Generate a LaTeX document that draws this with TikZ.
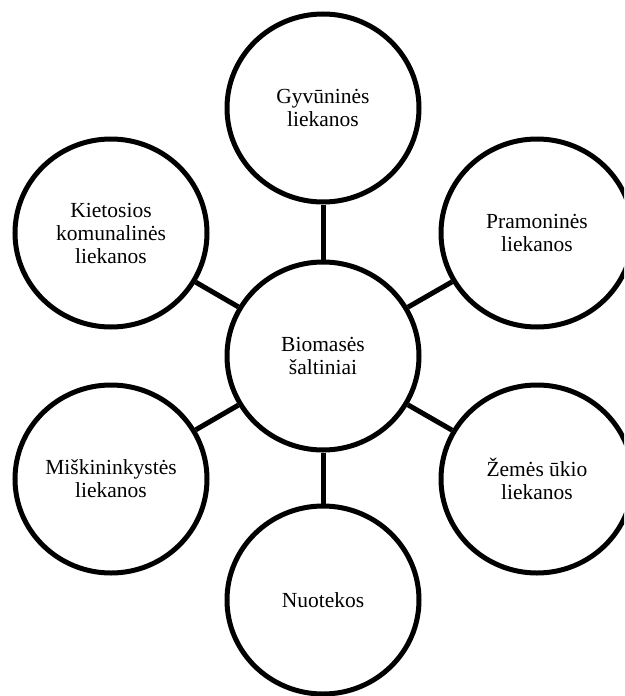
\documentclass[tikz,border=0pt]{standalone}
\usepackage{fontspec}
\setmainfont{Liberation Serif}
\usepackage{tikz}
\usetikzlibrary{shapes.geometric}

\begin{document}
\begin{tikzpicture}[x=1pt, y=-1pt,
  every node/.style={font=\fontsize{21.5}{23}\selectfont},
  blob/.style={draw, line width=5pt, ellipse, inner sep=0pt, align=center,
    minimum width=192pt, minimum height=188pt},
  link/.style={line width=5pt}]
\useasboundingbox (0,0) rectangle (624,696);
\clip (0,0) rectangle (624,696);
\node[blob] (src) at (323,356) {Biomasės\\šaltiniai};
\node[blob] (anim) at (323,108) {Gyvūninės\\liekanos};
\node[blob] (ind) at (537,233) {Pramoninės\\liekanos};
\node[blob] (agr) at (537,479) {Žemės ūkio\\liekanos};
\node[blob] (wat) at (323,600) {Nuotekos};
\node[blob] (for) at (111,479) {Miškininkystės\\liekanos};
\node[blob] (msw) at (111,233) {Kietosios\\komunalinės\\liekanos};
\draw[link] (src) -- (anim); \draw[link] (src) -- (ind); \draw[link] (src) -- (agr);
\draw[link] (src) -- (wat); \draw[link] (src) -- (for); \draw[link] (src) -- (msw);
\end{tikzpicture}
\end{document}
